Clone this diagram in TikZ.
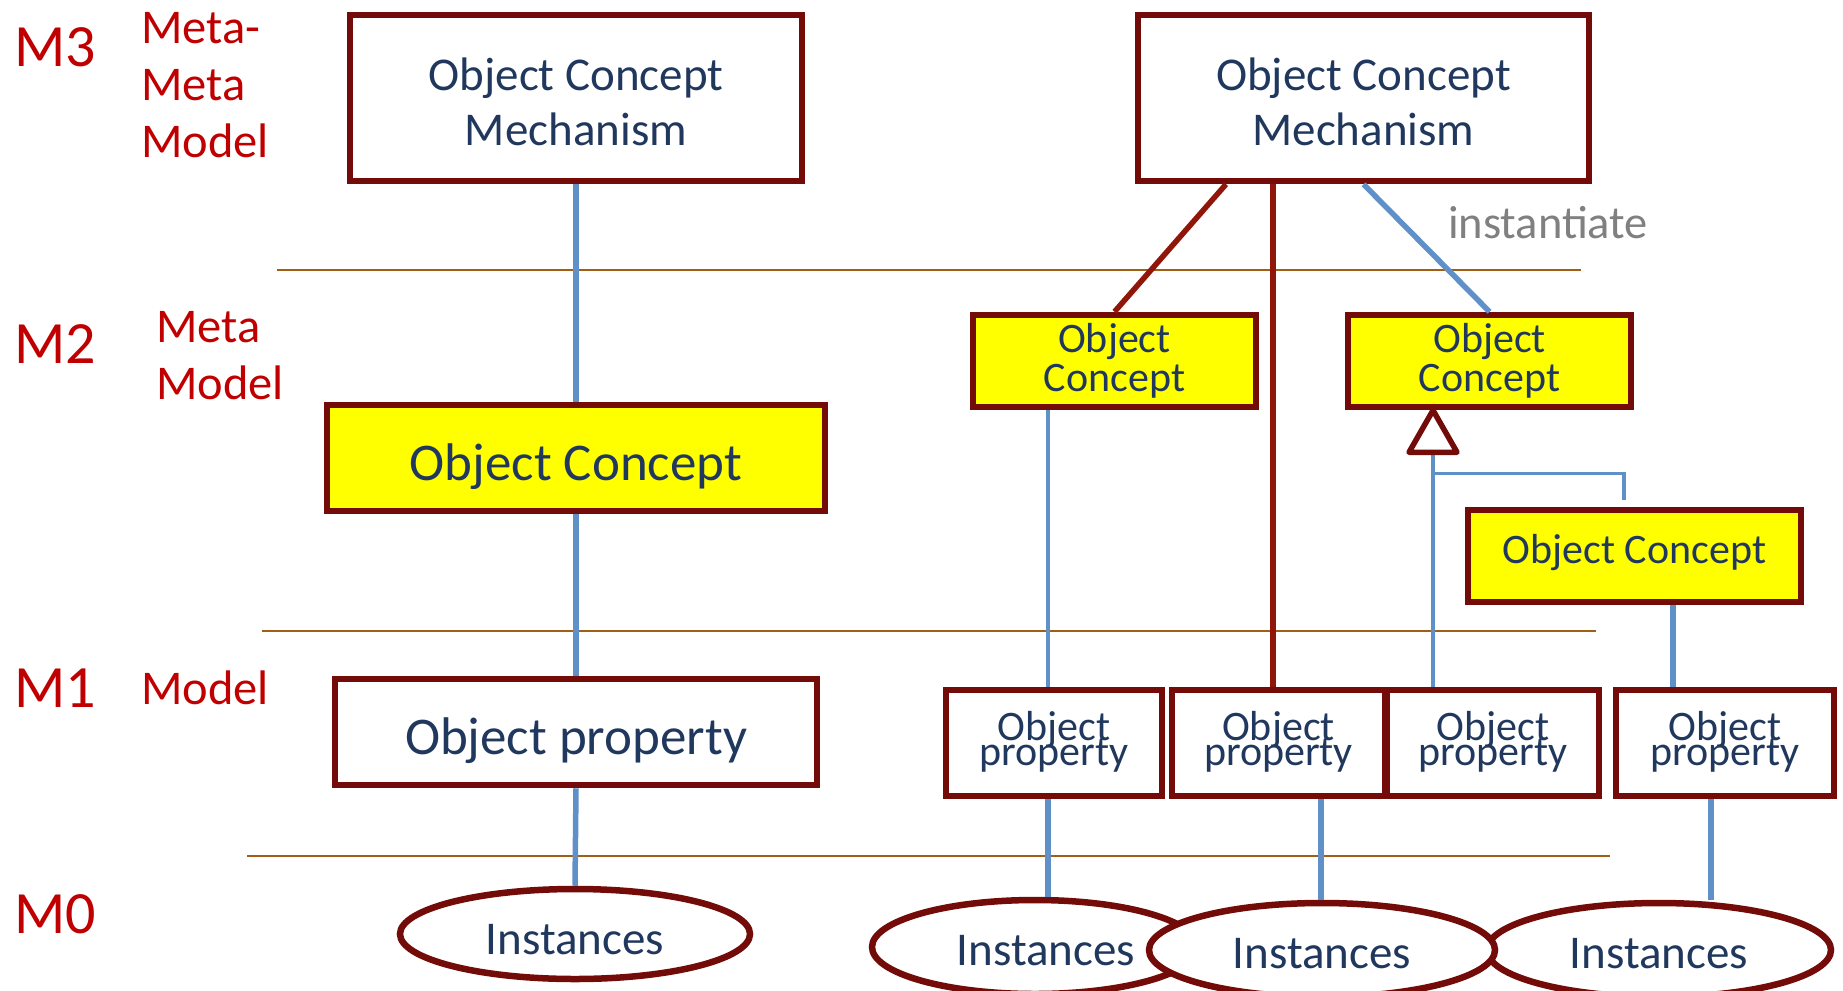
\documentclass[tikz,border=0pt]{standalone}
\usepackage{fontspec}
\setmainfont{Carlito}
\usetikzlibrary{shapes.geometric,calc}
\definecolor{boxred}{RGB}{115,12,8}
\definecolor{linered}{RGB}{145,22,10}
\definecolor{txtblue}{RGB}{33,56,94}
\definecolor{lblred}{RGB}{192,0,0}
\definecolor{rulebrown}{RGB}{160,95,20}
\definecolor{conblue}{RGB}{95,145,200}
\definecolor{boxyellow}{RGB}{255,255,0}
\definecolor{instgray}{RGB}{128,128,128}
\newcommand\mytightlines{\lineskiplimit=-100pt\relax}
\newcommand\myshift[2]{\raisebox{#1}[\height][\depth]{#2}}
\tikzset{
  box/.style={draw=boxred, line width=6.5pt, fill=white, inner sep=0pt, text=txtblue, align=center},
  ybox/.style={box, fill=boxyellow},
  inst/.style={ellipse, draw=boxred, line width=6.5pt, fill=white, inner sep=0pt, text=txtblue,
    font=\fontsize{47}{50}\selectfont},
  lvl/.style={text=lblred, font=\fontsize{60}{60}\selectfont, inner sep=0pt},
  lvltxt/.style={text=lblred, font=\fontsize{48.5}{57}\selectfont, inner sep=0pt, align=left, anchor=west},
  rule/.style={draw=rulebrown, line width=2.5pt},
  bthick/.style={draw=conblue, line width=5.5pt},
  bthin/.style={draw=conblue, line width=3.5pt},
  rthick/.style={draw=linered, line width=5.5pt},
  opbox/.style={box, minimum height=106pt, font=\fontsize{42}{25}\selectfont\mytightlines},
}
\begin{document}
\begin{tikzpicture}[x=1pt,y=-1pt]
\useasboundingbox (0,0) rectangle (1843,990);
% level rules
\draw[rule] (277,270) -- (1581,270);
\draw[rule] (262,631) -- (1596,631);
\draw[rule] (247,856) -- (1610,856);
% level labels
\node[lvl] (m3) at (55,47) {M3};
\node[lvl] (m2) at (55,344) {M2};
\node[lvl] (m1) at (55,688) {M1};
\node[lvl] (m0) at (55,914) {M0};
\node[lvltxt] (m3t) at (141,85) {Meta-\\Meta\\Model};
\node[lvltxt] (m2t) at (156,356) {Meta\\Model};
\node[lvltxt] (m1t) at (141,688) {Model};
% left column
\node[box, minimum width=452pt, minimum height=166pt, font=\fontsize{47}{55}\selectfont] (m3a) at (576,98) {\myshift{-3.5pt}{Object Concept}\\\myshift{-3.5pt}{Mechanism}};
\node[ybox, minimum width=498pt, minimum height=106pt, font=\fontsize{53}{60}\selectfont] (oca) at (576,458) {\myshift{-9pt}{Object Concept}};
\node[box, minimum width=482pt, minimum height=106pt, font=\fontsize{53}{60}\selectfont] (opa) at (576,732) {\myshift{-9pt}{Object property}};
\node[inst, minimum width=350pt, minimum height=90pt] (insa) at (575,934) {\myshift{-6pt}{Instances}};
\draw[bthick] (m3a.south) -- (oca.north);
\draw[bthick] (oca.south) -- (opa.north);
\draw[bthick] (opa.south) -- (insa.north);
% right column
\node[box, minimum width=451pt, minimum height=166pt, font=\fontsize{47}{55}\selectfont] (m3b) at (1363.5,98) {\myshift{-3.5pt}{Object Concept}\\\myshift{-3.5pt}{Mechanism}};
\node[ybox, minimum width=283pt, minimum height=92pt, font=\fontsize{42}{39}\selectfont] (oc1) at (1114.5,361) {Object\\Concept};
\node[ybox, minimum width=283pt, minimum height=92pt, font=\fontsize{42}{39}\selectfont] (oc2) at (1489.5,361) {Object\\Concept};
\node[ybox, minimum width=333pt, minimum height=92pt, font=\fontsize{42}{45}\selectfont] (oc3) at (1634.5,556) {\myshift{3pt}{Object Concept}};
\node[opbox, minimum width=216pt] (op1) at (1054,743) {\myshift{1pt}{Object}\\\myshift{1pt}{property}};
\node[opbox, minimum width=213pt] (op2) at (1278.5,743) {\myshift{1pt}{Object}\\\myshift{1pt}{property}};
\node[opbox, minimum width=212pt] (op3) at (1493,743) {\myshift{1pt}{Object}\\\myshift{1pt}{property}};
\node[opbox, minimum width=218pt] (op4) at (1725,743) {\myshift{1pt}{Object}\\\myshift{1pt}{property}};
% connectors from M3 box
\draw[rthick] ([xshift=-137.5pt]m3b.south) -- (oc1.north);
\draw[rthick] ([xshift=-90.5pt]m3b.south) -- ([xshift=-90.5pt]m3b.south |- op2.north);
\draw[bthick] (m3b.south) -- (oc2.north);
\node[text=instgray, font=\fontsize{46.5}{46}\selectfont, inner sep=0pt] (instlbl) at (1548,223) {instantiate};
% M2 to M1
\draw[bthin] ([xshift=-66.5pt]oc1.south) -- ([xshift=-66.5pt]oc1.south |- op1.north);
\coordinate (tri) at ([xshift=-56.5pt]oc2.south);
\coordinate (tribase) at ($(tri)+(0,42)$);
\coordinate (branch) at ($(tribase)+(0,21)$);
\draw[bthin] (tribase) -- (tribase |- op3.north);
\draw[bthin] ([xshift=-10.5pt,yshift=7pt]oc3.north) |- (branch);
\draw[draw=boxred, line width=5.5pt, fill=white, line join=round] (tri) -- ($(tri)+(-24,42)$) -- ($(tri)+(24,42)$) -- cycle;
\draw[bthick] ([xshift=38.5pt]oc3.south) -- ([xshift=38.5pt]oc3.south |- op4.north);
% instances
\node[inst, minimum width=326pt, minimum height=94pt] (ins1) at (1035,947) {\hspace*{22pt}\myshift{-4pt}{Instances}};
\node[inst, minimum width=344pt, minimum height=94pt] (ins3) at (1659,950) {\myshift{-4pt}{Instances}};
\node[inst, minimum width=346pt, minimum height=94pt] (ins2) at (1322,950) {\myshift{-4pt}{Instances}};
\draw[bthick] ([xshift=-6pt]op1.south) -- ([xshift=-6pt]op1.south |- ins1.north);
\draw[bthick] ([xshift=42.5pt]op2.south) -- ([xshift=42.5pt]op2.south |- ins2.north);
\draw[bthick] ([xshift=-14pt]op4.south) -- ([xshift=-14pt]op4.south |- ins3.north);
\end{tikzpicture}
\end{document}
